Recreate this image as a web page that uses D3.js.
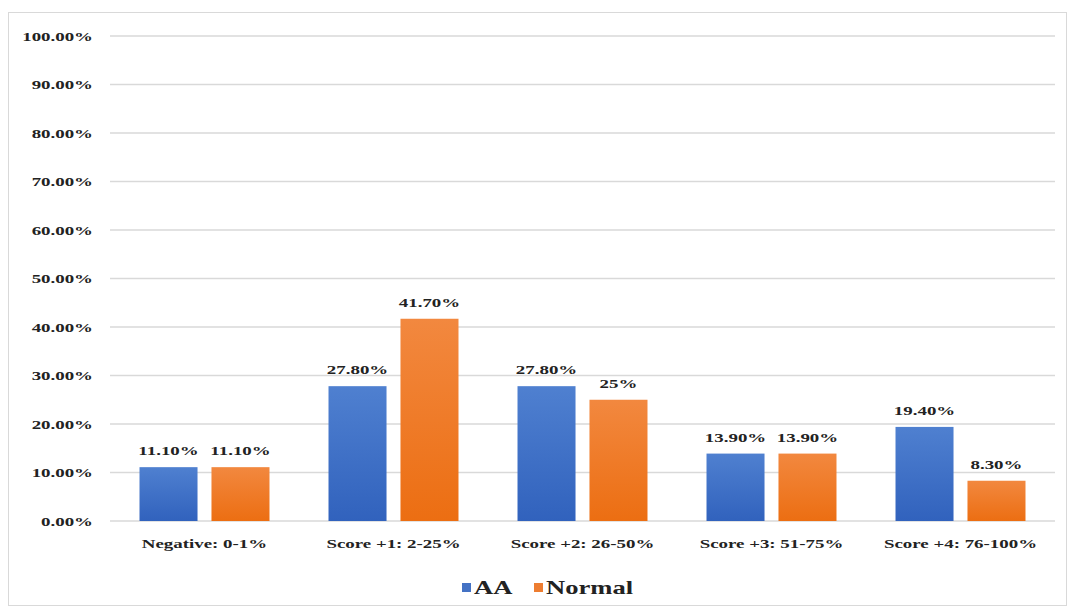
<!DOCTYPE html>
<html><head><meta charset="utf-8">
<script src="https://cdn.jsdelivr.net/npm/d3@7"></script>
<style>body{margin:0;background:#fff}svg{display:block}</style>
</head><body>
<script>
const categories = ["Negative: 0-1%", "Score +1: 2-25%", "Score +2: 26-50%", "Score +3: 51-75%", "Score +4: 76-100%"];
const seriesNames = ["AA", "Normal"];
const aaValues = [11.1, 27.8, 27.8, 13.9, 19.4];
const normalValues = [11.1, 41.7, 25, 13.9, 8.3];
const aaLabels = ["11.10%", "27.80%", "27.80%", "13.90%", "19.40%"];
const normalLabels = ["11.10%", "41.70%", "25%", "13.90%", "8.30%"];
const yTicks = [0, 10, 20, 30, 40, 50, 60, 70, 80, 90, 100];

const W = 1068, H = 615;
const m = {left: 110, right: 13, top: 36, bottom: 94};
const svg = d3.select("body").append("svg").attr("width", W).attr("height", H);
const font = "'Liberation Serif','Times New Roman',serif";
const SX = 1.4;

svg.append("rect").attr("x", 8.5).attr("y", 12.5).attr("width", 1058).attr("height", 593)
  .attr("fill", "#fff").attr("stroke", "#d9d9d9");

const defs = svg.append("defs");
const gradB = defs.append("linearGradient").attr("id", "gb").attr("x1", 0).attr("y1", 0).attr("x2", 0).attr("y2", 1);
gradB.append("stop").attr("offset", "0%").attr("stop-color", "#4f80d0");
gradB.append("stop").attr("offset", "100%").attr("stop-color", "#3162bd");
const gradO = defs.append("linearGradient").attr("id", "go").attr("x1", 0).attr("y1", 0).attr("x2", 0).attr("y2", 1);
gradO.append("stop").attr("offset", "0%").attr("stop-color", "#f2883f");
gradO.append("stop").attr("offset", "100%").attr("stop-color", "#ec6e12");

const x0 = d3.scaleBand().domain(categories).range([m.left, W - m.right]);
const x1 = d3.scaleBand().domain(seriesNames).range([0, x0.bandwidth()]).paddingInner(0.194).paddingOuter(0.41);
const y = d3.scaleLinear().domain([0, 100]).range([H - m.bottom, m.top]);

const grid = svg.append("g");
yTicks.forEach(t => {
  grid.append("line").attr("x1", m.left).attr("x2", W - m.right)
    .attr("y1", y(t)).attr("y2", y(t)).attr("stroke", "#d9d9d9").attr("stroke-width", 1.5);
});

const yAxis = svg.append("g").attr("transform", `translate(${m.left - 17},0)`)
  .call(d3.axisLeft(y).tickValues(yTicks).tickSize(0).tickPadding(0).tickFormat(d => d.toFixed(2) + "%"));
yAxis.select(".domain").remove();
yAxis.selectAll("text").attr("font-family", font).attr("font-weight", "bold").attr("font-size", 13.5)
  .attr("fill", "#222").attr("transform", `scale(${SX},1)`);

const xAxis = svg.append("g").attr("transform", `translate(0,${y(0)})`)
  .call(d3.axisBottom(x0).tickSize(0).tickPadding(17));
xAxis.select(".domain").remove();
xAxis.selectAll("text").attr("font-family", font).attr("font-weight", "bold").attr("font-size", 13.5)
  .attr("fill", "#222").attr("transform", `scale(${SX},1)`);

const data = categories.map((c, i) => ({c, vals: [
  {s: "AA", v: aaValues[i], l: aaLabels[i], f: "url(#gb)"},
  {s: "Normal", v: normalValues[i], l: normalLabels[i], f: "url(#go)"}
]}));

const g = svg.selectAll("g.cat").data(data).enter().append("g").attr("class", "cat")
  .attr("transform", d => `translate(${x0(d.c)},0)`);
g.selectAll("rect").data(d => d.vals).enter().append("rect")
  .attr("x", d => x1(d.s)).attr("width", x1.bandwidth())
  .attr("y", d => y(d.v)).attr("height", d => y(0) - y(d.v)).attr("fill", d => d.f);
g.selectAll("text").data(d => d.vals).enter().append("text")
  .attr("transform", d => `translate(${x1(d.s) + x1.bandwidth() / 2},${y(d.v) - 12}) scale(${SX},1)`)
  .attr("text-anchor", "middle").attr("font-family", font).attr("font-weight", "bold")
  .attr("font-size", 13.5).attr("fill", "#222").text(d => d.l);

const leg = svg.append("g");
const legItems = [{s: "AA", c: "#4472c4", x: 462}, {s: "Normal", c: "#ed7d31", x: 534}];
legItems.forEach(it => {
  leg.append("rect").attr("x", it.x).attr("y", 583).attr("width", 9).attr("height", 9).attr("fill", it.c);
  leg.append("text").attr("transform", `translate(${it.x + 12},594) scale(${SX},1)`)
    .attr("font-family", font).attr("font-weight", "bold")
    .attr("font-size", 19).attr("fill", "#222").text(it.s);
});
</script>
</body></html>
